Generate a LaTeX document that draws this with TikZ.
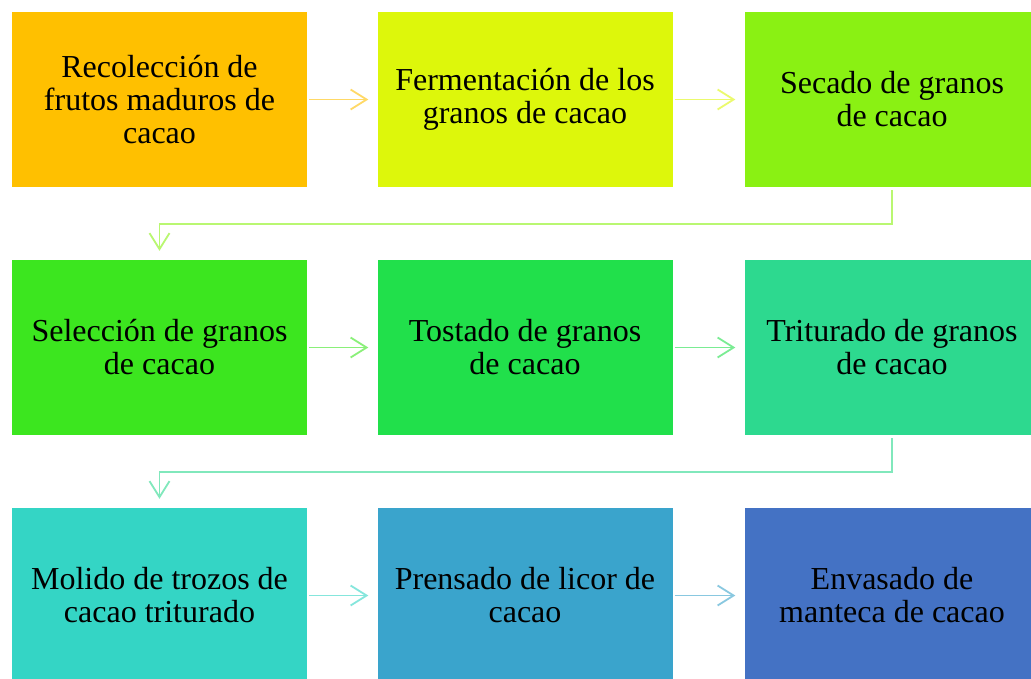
\documentclass[tikz,border=0pt]{standalone}
\usepackage{fontspec}
\setmainfont{Liberation Serif}
\usetikzlibrary{arrows.meta}
\definecolor{c1}{HTML}{FFC000}
\definecolor{c2}{HTML}{DDF70B}
\definecolor{c3}{HTML}{8AF113}
\definecolor{c4}{HTML}{3CE61F}
\definecolor{c5}{HTML}{21E04B}
\definecolor{c6}{HTML}{2DD98F}
\definecolor{c7}{HTML}{34D5C5}
\definecolor{c8}{HTML}{3AA4CC}
\definecolor{c9}{HTML}{4472C4}
\tikzset{
  stepbox/.style={rectangle, draw=none, minimum width=295pt, minimum height=175pt, inner sep=0pt, align=center, font=\fontsize{32}{33}\selectfont, text=black},
  flow/.style={line width=1.8pt, -{Straight Barb[length=16pt,width=20pt]}},
}
\begin{document}
\begin{tikzpicture}[x=1pt,y=-1pt]
\useasboundingbox (0,0) rectangle (1031,678);
\fill[white] (0,0) rectangle (1031,678);
\node[stepbox, fill=c1] (b1) at (159.5,99.5) {Recolección de\\frutos maduros de\\cacao};
\node[stepbox, fill=c2] (b2) at (525,99.5) {Fermentación de los\\granos de cacao};
\node[stepbox, fill=c3] (b3) at (892,99.5) {Secado de granos\\de cacao};
\node[stepbox, fill=c4] (b4) at (159.5,347.5) {Selección de granos\\de cacao};
\node[stepbox, fill=c5] (b5) at (525,347.5) {Tostado de granos\\de cacao};
\node[stepbox, fill=c6] (b6) at (892,347.5) {Triturado de granos\\de cacao};
\node[stepbox, fill=c7] (b7) at (159.5,595.5) {Molido de trozos de\\cacao triturado};
\node[stepbox, fill=c8] (b8) at (525,595.5) {Prensado de licor de\\cacao};
\node[stepbox, fill=c9] (b9) at (892,595.5) {Envasado de\\manteca de cacao};
\coordinate (k1) at (892,224);
\coordinate (k2) at (159.5,224);
\coordinate (k3) at (892,472);
\coordinate (k4) at (159.5,472);
\draw[flow, draw=c1!60!white] ([xshift=2pt]b1.east) -- ([xshift=-9pt]b2.west);
\draw[flow, draw=c2!60!white] ([xshift=2pt]b2.east) -- ([xshift=-9pt]b3.west);
\draw[flow, draw=c3!60!white] ([yshift=-3pt]b3.south) -- (k1) -- (k2) -- ([yshift=9pt]b4.north);
\draw[flow, draw=c4!60!white] ([xshift=2pt]b4.east) -- ([xshift=-9pt]b5.west);
\draw[flow, draw=c5!60!white] ([xshift=2pt]b5.east) -- ([xshift=-9pt]b6.west);
\draw[flow, draw=c6!60!white] ([yshift=-3pt]b6.south) -- (k3) -- (k4) -- ([yshift=9pt]b7.north);
\draw[flow, draw=c7!60!white] ([xshift=2pt]b7.east) -- ([xshift=-9pt]b8.west);
\draw[flow, draw=c8!60!white] ([xshift=2pt]b8.east) -- ([xshift=-9pt]b9.west);
\end{tikzpicture}
\end{document}
